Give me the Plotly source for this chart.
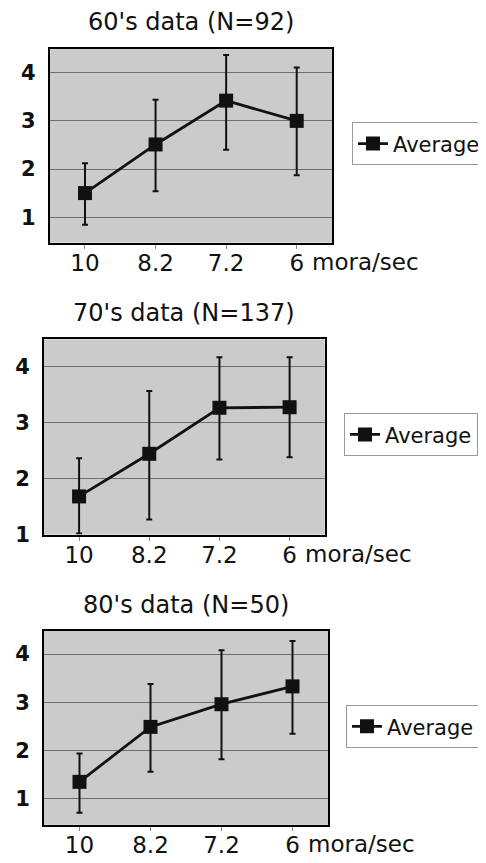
import plotly.graph_objects as go

# ---- data ----
categories = ["10", "8.2", "7.2", "6"]
unit_label = "mora/sec"
series_name = "Average"

titles = ["60's data (N=92)", "70's data (N=137)", "80's data (N=50)"]

mean_60 = [1.50, 2.51, 3.42, 3.00]
upper_60 = [2.12, 3.44, 4.37, 4.11]
lower_60 = [0.84, 1.54, 2.40, 1.87]

mean_70 = [1.68, 2.44, 3.26, 3.27]
upper_70 = [2.36, 3.56, 4.16, 4.16]
lower_70 = [1.02, 1.27, 2.34, 2.38]

mean_80 = [1.35, 2.49, 2.96, 3.33]
upper_80 = [1.94, 3.38, 4.08, 4.27]
lower_80 = [0.71, 1.56, 1.82, 2.35]

y_ticks = [1, 2, 3, 4]

# ---- layout geometry (pixels) ----
W, H = 486, 863
panels = [
    dict(mean=mean_60, up=upper_60, lo=lower_60, x0=41.7, x1=324, y0=41.7, y1=238,
         yr=[0.47, 4.49], title_y=20.7, leg=(344, 116)),
    dict(mean=mean_70, up=upper_70, lo=lower_70, x0=36, x1=316.7, y0=336, y1=534,
         yr=[1.0, 4.48], title_y=315, leg=(336, 411)),
    dict(mean=mean_80, up=upper_80, lo=lower_80, x0=36, x1=320, y0=631.7, y1=828.3,
         yr=[0.46, 4.48], title_y=611.7, leg=(338, 707)),
]

FONT = "DejaVu Sans"
fig = go.Figure()
layout = dict(
    width=W, height=H,
    margin=dict(l=0, r=0, t=0, b=0),
    paper_bgcolor="white",
    plot_bgcolor="#cbcbcb",
    annotations=[],
    showlegend=True,
)

for i, p in enumerate(panels):
    n = "" if i == 0 else str(i + 1)
    plus = [u - m for u, m in zip(p["up"], p["mean"])]
    minus = [m - l for m, l in zip(p["mean"], p["lo"])]
    leg_name = "legend" if i == 0 else f"legend{i+1}"
    fig.add_trace(go.Scatter(
        x=categories, y=p["mean"], mode="lines+markers", name=series_name,
        xaxis="x" + n, yaxis="y" + n, legend=leg_name,
        line=dict(color="#111111", width=2.8),
        marker=dict(symbol="square", size=14, color="#111111"),
        error_y=dict(type="data", symmetric=False, array=plus, arrayminus=minus,
                     color="#111111", thickness=2, width=3),
        cliponaxis=False,
    ))
    layout["xaxis" + n] = dict(
        domain=[p["x0"] / W, p["x1"] / W], anchor="y" + n,
        type="category", range=[-0.5, 3.5],
        showline=True, mirror=True, linecolor="black", linewidth=2,
        showgrid=False, zeroline=False,
        ticks="outside", ticklen=4, tickcolor="#888888", tickwidth=1,
        ticklabelstandoff=-5,
        tickfont=dict(family=FONT, size=23, color="#111111"),
    )
    layout["yaxis" + n] = dict(
        domain=[1 - p["y1"] / H, 1 - p["y0"] / H], anchor="x" + n,
        range=p["yr"], tickvals=y_ticks,
        showline=True, mirror=True, linecolor="black", linewidth=2,
        showgrid=True, gridcolor="#6e6e6e", gridwidth=1, zeroline=False,
        ticks="", ticklabelstandoff=8,
        tickfont=dict(family=FONT, size=21, color="#111111", weight="bold"),
    )
    layout["annotations"].append(dict(
        text=titles[i], xref="paper", yref="paper",
        x=(p["x0"] + p["x1"]) / 2 / W, y=1 - (p["title_y"] - 6) / H,
        xanchor="center", yanchor="middle", showarrow=False,
        font=dict(family=FONT, size=24, color="#111111"),
    ))
    layout["annotations"].append(dict(
        text=unit_label, xref="x" + n, yref="y" + n + " domain",
        x=len(categories) - 1, y=0, xanchor="left", yanchor="middle",
        xshift=13, yshift=-19, showarrow=False,
        font=dict(family=FONT, size=23, color="#111111"),
    ))
    lx, ly = p["leg"]
    layout[leg_name] = dict(
        x=lx / W, y=1 - ly / H, xanchor="left", yanchor="top",
        xref="paper", yref="paper",
        bgcolor="white", bordercolor="#999999", borderwidth=1,
        font=dict(family=FONT, size=21, color="#111111"),
        itemwidth=30, tracegroupgap=0,
    )

fig.update_layout(**layout)
fig.write_html("out.html")
